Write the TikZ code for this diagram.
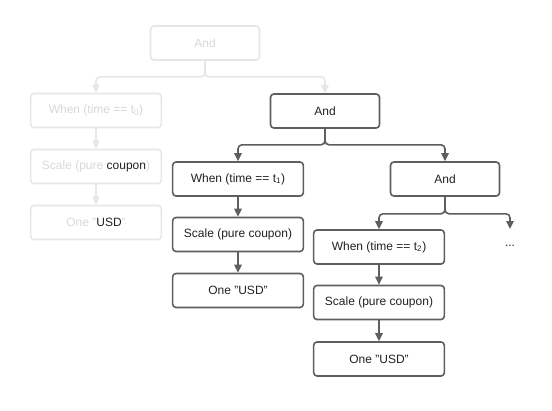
\documentclass[tikz,border=0pt]{standalone}
\usepackage{fontspec}
\setmainfont{Liberation Sans}
\usetikzlibrary{arrows.meta}
\usepackage{xcolor}
\definecolor{edge}{HTML}{5E5E5E}
\definecolor{ink}{HTML}{222222}
\definecolor{ghost}{HTML}{E6E6E6}
\definecolor{ghosttext}{HTML}{D8D8D8}

\begin{document}
\begin{tikzpicture}[x=0.75pt, y=-0.75pt,
  box/.style={rectangle, draw=edge, line width=1.2pt, fill=white, minimum width=#1, minimum height=25.5pt, align=center, font=\fontsize{9}{11}\selectfont, text=ink, rounded corners=2.5pt},
  box/.default=98pt,
  ghostbox/.style={box=#1, draw=ghost, text=ghosttext},
  ghostbox/.default=98pt,
  arr/.style={-{Triangle[length=6pt, width=5.5pt]}, line width=1.2pt, edge, rounded corners=3pt},
  ghostarr/.style={arr, ghost}
]
  \useasboundingbox (0,0) rectangle (552,410);

  \node[ghostbox=81.75pt] (and0) at (205,43) {And};
  \node[ghostbox] (when0) at (96,110.5) {When (time == t\textsubscript{0})};
  \node[ghostbox] (scale0) at (96,166.5) {Scale (pure \textcolor{ink}{coupon})};
  \node[ghostbox] (one0) at (96,222.5) {One "\textcolor{ink}{USD}"};

  \node[box=81.75pt] (and1) at (325,111) {And};
  \node[box] (when1) at (238,179) {When (time == t\textsubscript{1})};
  \node[box] (scale1) at (238,234.5) {Scale (pure coupon)};
  \node[box] (one1) at (238,290.5) {One "USD"};

  \node[box=81.75pt] (and2) at (445,179) {And};
  \node[box] (when2) at (379,247) {When (time == t\textsubscript{2})};
  \node[box] (scale2) at (379,302.5) {Scale (pure coupon)};
  \node[box] (one2) at (379,359) {One "USD"};
  \node[text=ink, font=\fontsize{9}{11}\selectfont] (dots) at (510,246) {...};
  \coordinate (more) at (510,229);

  \draw[ghostarr] (and0.south) -- ++(0,16) -| (when0.north);
  \draw[ghostarr] (and0.south) -- ++(0,16) -| (and1.north);
  \draw[ghostarr] (when0) -- (scale0);
  \draw[ghostarr] (scale0) -- (one0);

  \draw[arr] (and1.south) -- ++(0,16) -| (when1.north);
  \draw[arr] (and1.south) -- ++(0,16) -| (and2.north);
  \draw[arr] (when1) -- (scale1);
  \draw[arr] (scale1) -- (one1);

  \draw[arr] (and2.south) -- ++(0,17) -| (when2.north);
  \draw[arr] (and2.south) -- ++(0,17) -| (more);
  \draw[arr] (when2) -- (scale2);
  \draw[arr] (scale2) -- (one2);
\end{tikzpicture}
\end{document}
